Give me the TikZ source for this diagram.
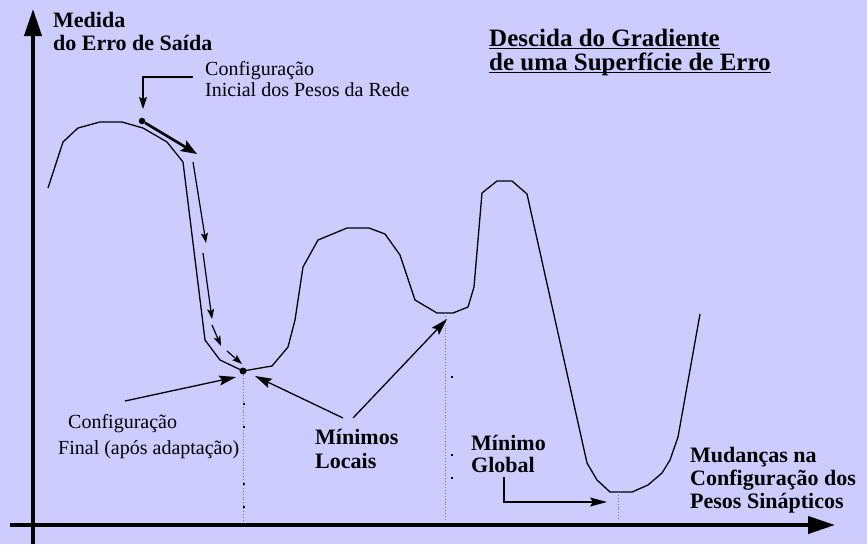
\documentclass[tikz,border=0pt]{standalone}
\usepackage{fontspec}
\setmainfont{Liberation Serif}
\usepackage{tikz}
\usetikzlibrary{positioning,arrows.meta}
\definecolor{fundo}{RGB}{204,204,255}
\definecolor{pontilhado}{RGB}{110,110,150}
\newcommand{\sublinha}[1]{\setbox0\hbox{#1}\rlap{\rule[-2.8pt]{\wd0}{1.3pt}}\box0}
\tikzset{
	eixo/.style={line width=4pt,-{Triangle[length=27pt,width=17pt]}},
	curva/.style={line width=1.3pt,line join=round},
	seta/.style={line width=1.3pt,-{Stealth[length=17pt,width=10pt,inset=3pt]}},
	setinha/.style={line width=1.2pt,-{Stealth[length=10pt,width=7pt,inset=2pt]}},
	setagrossa/.style={line width=2.6pt,-{Stealth[length=16pt,width=12pt,inset=3pt]}},
	ponto/.style={circle,fill=black,inner sep=0pt,minimum size=#1},
	ponto/.default=6.5pt,
	guia/.style={pontilhado,line width=0.9pt,dotted},
	rotulo/.style={anchor=base west,inner sep=0pt,align=left,font=\bfseries\fontsize{22}{23}\selectfont},
	texto/.style={anchor=base west,inner sep=0pt,align=left,font=\fontsize{20}{21}\selectfont}
}
\begin{document}
\begin{tikzpicture}[x=1pt,y=-1pt]
	\fill[fundo] (0,0) rectangle (867,544);
	\useasboundingbox (0,0) rectangle (867,544);

	\coordinate (o) at (33,525);
	\coordinate (ytopo) at (33,9);
	\coordinate (ybase) at (33,544);
	\coordinate (xini) at (10,525);
	\coordinate (xfim) at (835,525);
	\draw[line width=4pt] (o) -- (ybase);
	\draw[eixo] (o) -- (ytopo);
	\draw[eixo] (xini) -- (xfim);

	\draw[curva] (48,188) -- (63,142) -- (78,128) -- (100,122) -- (122,122) -- (143,128) -- (167,142)
		-- (183,162) -- (205,340) -- (220,360) -- (243,371) -- (272,366) -- (288,347) -- (295,320)
		-- (303,267) -- (318,240) -- (347,228) -- (369,228) -- (385,234) -- (400,255) -- (415,300)
		-- (437,313) -- (453,313) -- (468,307) -- (474,287) -- (482,193) -- (497,181) -- (512,181)
		-- (527,194) -- (587,463) -- (597,480) -- (610,492) -- (632,492) -- (648,485) -- (662,473)
		-- (670,460) -- (678,437) -- (700,314);

	\node[ponto] (ini) at (142,121) {};
	\node[ponto=7pt] (fim) at (243,371) {};
	\coordinate (ml) at (445,313);
	\coordinate (mg) at (618,492);

	\draw[guia] (fim) -- (fim |- 0,521);
	\draw[guia] (ml) -- (ml |- 0,521);
	\draw[guia] (mg) -- (mg |- 0,521);
	\foreach \y in {403,426,483,506}
		\fill (242.5,\y) rectangle +(2,2);
	\foreach \y in {376,454,477}
		\fill (450.5,\y) rectangle +(2,2);

	\coordinate (d0) at (197,154);
	\coordinate (d1a) at (193,162);
	\coordinate (d1b) at (206,243);
	\coordinate (d2a) at (203,253);
	\coordinate (d2b) at (212,319);
	\coordinate (d3a) at (212,325);
	\coordinate (d3b) at (221,346);
	\coordinate (d4a) at (227,351);
	\coordinate (d4b) at (242,364);
	\draw[setagrossa] (ini) -- (d0);
	\foreach \n in {1,...,4}
		\draw[setinha] (d\n a) -- (d\n b);

	\node[rotulo] (medida) at (53,50) {Medida\\do Erro de Saída};
	\node[rotulo,font=\bfseries\fontsize{25}{24}\selectfont] (titulo) at (489,70)
		{\sublinha{Descida do Gradiente}\\\sublinha{de uma Superfície de Erro}};
	\node[texto] (inicial) at (205,96) {Configuração\\Inicial dos Pesos da Rede};
	\node[texto,font=\fontsize{20}{26}\selectfont] (final) at (58,454)
		{\hspace*{10pt}Configuração\\Final (após adaptação)};
	\node[rotulo,font=\bfseries\fontsize{22}{24}\selectfont] (locais) at (315,468) {Mínimos\\Locais};
	\node[rotulo,font=\bfseries\fontsize{22}{22}\selectfont] (global) at (471,472) {Mínimo\\Global};
	\node[rotulo] (mudancas) at (690,508) {Mudanças na\\Configuração dos\\Pesos Sinápticos};

	\coordinate (i1) at (193,77);
	\coordinate (i2) at (143,109);
	\draw[line width=1.2pt,-{Stealth[length=12pt,width=8pt,inset=2pt]}] (i1) -| (i2);

	\coordinate (f1) at (125,401);
	\coordinate (f2) at (236,377);
	\draw[seta] (f1) -- (f2);

	\coordinate (l1) at (343,418);
	\coordinate (l2) at (255,376);
	\coordinate (l3) at (353,418);
	\coordinate (l4) at (447,319);
	\draw[seta] (l1) -- (l2);
	\draw[seta] (l3) -- (l4);

	\coordinate (g1) at (504,477);
	\coordinate (g2) at (607,502);
	\draw[line width=1.2pt,-{Stealth[length=17pt,width=9pt,inset=3pt]}] (g1) |- (g2);
\end{tikzpicture}
\end{document}
